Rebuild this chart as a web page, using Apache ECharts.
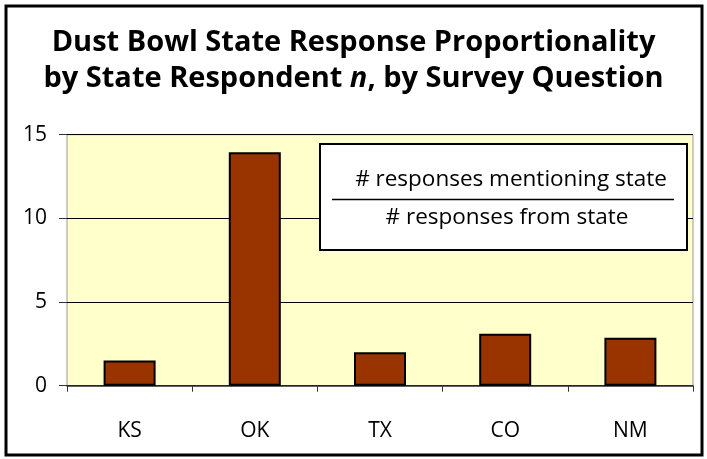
<!DOCTYPE html>
<html>
<head>
<meta charset="utf-8">
<style>
  html, body { margin: 0; padding: 0; background: #fff; }
  #chart { width: 707px; height: 459px; }
</style>
<script src="https://cdn.jsdelivr.net/npm/echarts@6/dist/echarts.min.js"></script>
</head>
<body>
<div id="chart"></div>
<script>
// Response proportionality per state
const states = ['KS', 'OK', 'TX', 'CO', 'NM'];
const proportionality = [1.5, 13.95, 2.0, 3.1, 2.87];
const yTicks = [0, 5, 10, 15];

const FONT = '"Open Sans", "Noto Sans", sans-serif';

const chart = echarts.init(document.getElementById('chart'), null, { renderer: 'canvas' });

chart.setOption({
  backgroundColor: '#ffffff',
  animation: false,
  title: {
    left: 'center',
    top: 20,
    text: '{a|Dust Bowl State Response Proportionality}\n{a|by State Respondent }{i|n}{a|, by Survey Question}',
    textStyle: {
      rich: {
        a: { fontFamily: FONT, fontWeight: 'bold', fontSize: 29, color: '#000', lineHeight: 36 },
        i: { fontFamily: FONT, fontWeight: 'bold', fontStyle: 'italic', fontSize: 29, color: '#000', lineHeight: 36 }
      }
    }
  },
  grid: {
    left: 67, right: 14, top: 134.7, bottom: 73.3,
    show: true,
    backgroundColor: '#FFFFCC',
    borderColor: '#999999',
    borderWidth: 1
  },
  xAxis: {
    type: 'category',
    data: states,
    boundaryGap: true,
    axisLine: { show: true, lineStyle: { color: '#333', width: 1.5 } },
    axisTick: { show: true, alignWithLabel: false, length: 6, lineStyle: { color: '#333' } },
    axisLabel: { margin: 35, color: '#000', fontFamily: FONT, fontSize: 21 },
    splitLine: { show: false }
  },
  yAxis: {
    type: 'value',
    min: yTicks[0],
    max: yTicks[yTicks.length - 1],
    interval: 5,
    axisLine: { show: false },
    axisTick: { show: true, length: 8, lineStyle: { color: '#333' } },
    axisLabel: { margin: 20, color: '#000', fontFamily: FONT, fontSize: 21, padding: [0, 0, 6, 0] },
    splitLine: { show: true, lineStyle: { color: '#000', width: 1 } }
  },
  series: [{
    type: 'bar',
    data: proportionality,
    barWidth: 52,
    itemStyle: { color: '#993300', borderColor: '#000', borderWidth: 2 }
  }],
  graphic: [
    // outer frame
    { type: 'rect', shape: { x: 6, y: 6, width: 696, height: 449 },
      style: { fill: 'none', stroke: '#000', lineWidth: 3 }, z: 100 },
    // ratio key box
    { type: 'rect', shape: { x: 320, y: 144, width: 367, height: 106 },
      style: { fill: '#fff', stroke: '#000', lineWidth: 2 }, z: 50 },
    { type: 'text', x: 511, y: 180, z: 51,
      style: { text: '# responses mentioning state', fontFamily: FONT, fontSize: 22.5, fill: '#000',
               align: 'center', verticalAlign: 'middle' } },
    { type: 'line', shape: { x1: 332, y1: 199.5, x2: 674, y2: 199.5 },
      style: { stroke: '#000', lineWidth: 1.5 }, z: 51 },
    { type: 'text', x: 507, y: 218, z: 51,
      style: { text: '# responses from state', fontFamily: FONT, fontSize: 22.5, fill: '#000',
               align: 'center', verticalAlign: 'middle' } }
  ]
});
</script>
</body>
</html>
